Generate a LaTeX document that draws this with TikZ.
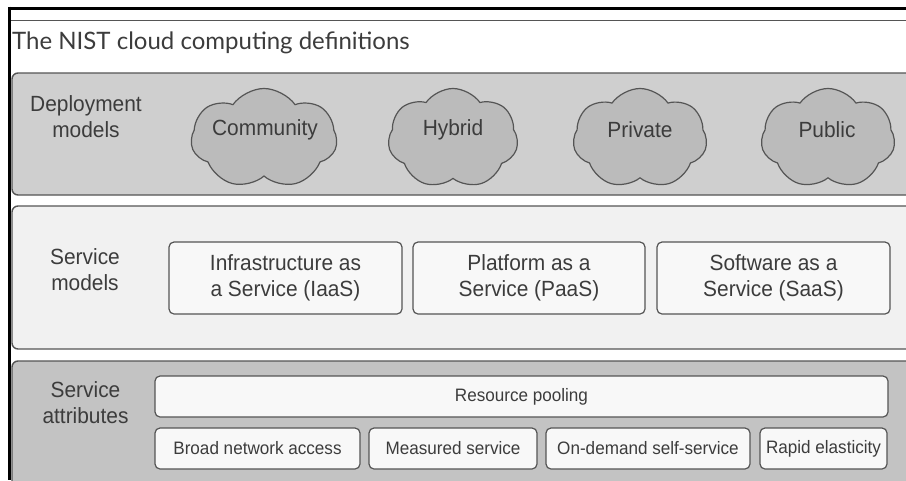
\documentclass[tikz,border=0pt]{standalone}
\usepackage{fontspec}
\usetikzlibrary{shapes.symbols}
\newfontfamily\condfont[FakeStretch=0.95]{Liberation Sans}
\newfontfamily\titlefont{Lato}

\definecolor{ink}{HTML}{3C3C3C}
\definecolor{edge}{HTML}{555555}
\definecolor{deployfill}{HTML}{CFCFCF}
\definecolor{modelfill}{HTML}{F1F1F1}
\definecolor{attrfill}{HTML}{C3C3C3}
\definecolor{cloudfill}{HTML}{BBBBBB}
\definecolor{boxfill}{HTML}{F8F8F8}

\begin{document}
\begin{tikzpicture}[x=1pt,y=-1pt,
  panel/.style={draw=edge,line width=1.4pt,rounded corners=6pt},
  bigtext/.style={text=ink,font=\condfont\fontsize{22}{26}\selectfont},
  lbl/.style={bigtext,align=center,inner sep=0pt},
  cloudnode/.style={cloud,cloud puffs=7,cloud puff arc=110,draw=edge,
    line width=1.2pt,fill=cloudfill,inner sep=0pt,minimum height=100pt},
  cloudtext/.style={bigtext,inner sep=0pt},
  modelbox/.style={bigtext,align=center,draw=edge,line width=1.2pt,
    rounded corners=5pt,fill=boxfill,minimum height=72pt,inner sep=0pt},
  attrbox/.style={text=ink,font=\condfont\fontsize{18}{20}\selectfont,
    draw=edge,line width=1.2pt,rounded corners=5pt,fill=boxfill,
    minimum height=41pt,inner sep=0pt}
]
\clip (0,0) rectangle (906,480);
\fill[white] (0,0) rectangle (906,480);

% outer frame and title strip
\draw[black,line width=3pt] (8,8) -- (906,8);
\draw[black,line width=3pt] (9.5,6.5) -- (9.5,480);
\draw[edge,line width=1.5pt] (11,20.5) -- (906,20.5);
\node[anchor=base west,inner sep=0pt,text=ink,font=\titlefont\fontsize{24}{28}\selectfont]
  (title) at (12,49) {The NIST cloud computing definitions};

% the three layers
\draw[panel,fill=deployfill] (12,73) rectangle (930,195);
\draw[panel,fill=modelfill] (12,206) rectangle (930,349);
\draw[panel,fill=attrfill] (12,361) rectangle (930,500);

% deployment models
\node[lbl] (deploy) at (86,116.5) {Deployment\\models};
\node[cloudnode,minimum width=146pt] (community) at (264,138.5) {};
\node[cloudnode,minimum width=130pt] (hybrid) at (453,138.5) {};
\node[cloudnode,minimum width=134pt] (private) at (640,138.5) {};
\node[cloudnode,minimum width=134pt] (public) at (828,138.5) {};
\node[cloudtext] (communityt) at (265,130) {Community};
\node[cloudtext] (hybridt) at (453,130) {Hybrid};
\node[cloudtext] (privatet) at (640,130) {Private};
\node[cloudtext] (publict) at (827,130) {Public};

% service models
\node[lbl] (models) at (85,270) {Service\\models};
\node[modelbox,minimum width=233pt] (iaas) at (285.5,278) {Infrastructure as\\a Service (IaaS)};
\node[modelbox,minimum width=232pt] (paas) at (529,278) {Platform as a\\Service (PaaS)};
\node[modelbox,minimum width=233pt] (saas) at (773.5,278) {Software as a\\Service (SaaS)};

% service attributes
\node[lbl] (attrs) at (85.5,402.5) {Service\\attributes};
\node[attrbox,minimum width=733pt] (pool) at (521.5,396.5) {Resource pooling};
\node[attrbox,minimum width=205pt] (broad) at (257.5,448.5) {Broad network access};
\node[attrbox,minimum width=168pt] (measured) at (453,448.5) {Measured service};
\node[attrbox,minimum width=204pt] (ondemand) at (648,448.5) {On-demand self-service};
\node[attrbox,minimum width=127pt] (rapid) at (823.5,448.5) {Rapid elasticity};
\end{tikzpicture}
\end{document}
